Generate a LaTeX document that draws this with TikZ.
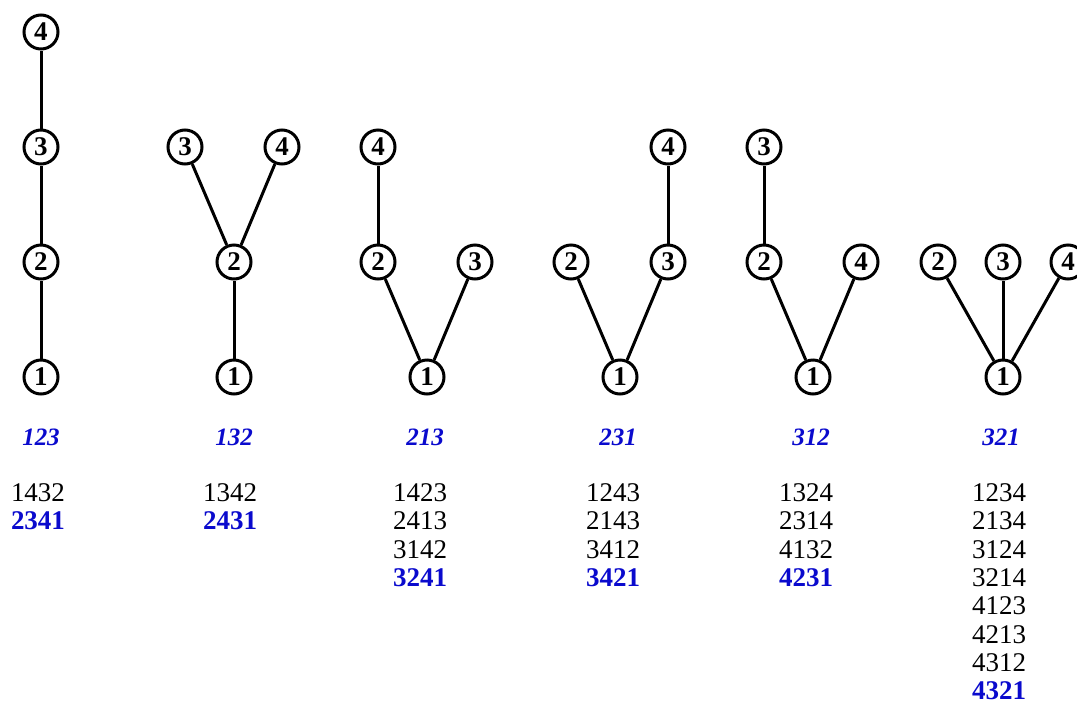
\documentclass[tikz,border=0pt]{standalone}
\usepackage{fontspec}
\setmainfont{Liberation Serif}
\definecolor{permblue}{RGB}{10,10,205}
\tikzset{
  vtx/.style={circle, draw, line width=3pt, minimum size=34pt, inner sep=0pt,
              font=\fontsize{27}{27}\selectfont\bfseries},
  link/.style={line width=3pt},
  pat/.style={anchor=base, text=permblue, font=\fontsize{25}{25}\selectfont\bfseries\itshape},
  perm/.style={anchor=base, font=\fontsize{27}{27}\selectfont},
  best/.style={anchor=base, text=permblue, font=\fontsize{27}{27}\selectfont\bfseries},
}
\begin{document}
\begin{tikzpicture}[x=1pt, y=-1pt]
\useasboundingbox (0,0) rectangle (1077,705);

% tree 123: a path
\node[vtx] (a1) at (41,377) {1};
\node[vtx] (a2) at (41,262) {2};
\node[vtx] (a3) at (41,147) {3};
\node[vtx] (a4) at (41,32) {4};
\draw[link] (a1) -- (a2) -- (a3) -- (a4);

% tree 132
\node[vtx] (b1) at (234,377) {1};
\node[vtx] (b2) at (234,262) {2};
\node[vtx] (b3) at (185,147) {3};
\node[vtx] (b4) at (282,147) {4};
\draw[link] (b1) -- (b2);
\draw[link] (b2) -- (b3);
\draw[link] (b2) -- (b4);

% tree 213
\node[vtx] (c1) at (427,377) {1};
\node[vtx] (c2) at (378,262) {2};
\node[vtx] (c3) at (475,262) {3};
\node[vtx] (c4) at (378,147) {4};
\draw[link] (c1) -- (c2);
\draw[link] (c1) -- (c3);
\draw[link] (c2) -- (c4);

% tree 231
\node[vtx] (d1) at (620,377) {1};
\node[vtx] (d2) at (571,262) {2};
\node[vtx] (d3) at (668,262) {3};
\node[vtx] (d4) at (668,147) {4};
\draw[link] (d1) -- (d2);
\draw[link] (d1) -- (d3);
\draw[link] (d3) -- (d4);

% tree 312
\node[vtx] (e1) at (813,377) {1};
\node[vtx] (e2) at (764,262) {2};
\node[vtx] (e4) at (861,262) {4};
\node[vtx] (e3) at (764,147) {3};
\draw[link] (e1) -- (e2);
\draw[link] (e1) -- (e4);
\draw[link] (e2) -- (e3);

% tree 321: a star
\node[vtx] (f1) at (1003,377) {1};
\node[vtx] (f2) at (938,262) {2};
\node[vtx] (f3) at (1003,262) {3};
\node[vtx] (f4) at (1068,262) {4};
\draw[link] (f1) -- (f2);
\draw[link] (f1) -- (f3);
\draw[link] (f1) -- (f4);

% pattern labels
\node[pat] (pa) at (41,445) {123};
\node[pat] (pb) at (234,445) {132};
\node[pat] (pc) at (425,445) {213};
\node[pat] (pd) at (618,445) {231};
\node[pat] (pe) at (811,445) {312};
\node[pat] (pf) at (1001,445) {321};

% permutation lists
\node[perm] (qa1) at (38,501) {1432};
\node[best] (qa2) at (38,529) {2341};

\node[perm] (qb1) at (230,501) {1342};
\node[best] (qb2) at (230,529) {2431};

\node[perm] (qc1) at (420,501) {1423};
\node[perm] (qc2) at (420,529) {2413};
\node[perm] (qc3) at (420,558) {3142};
\node[best] (qc4) at (420,586) {3241};

\node[perm] (qd1) at (613,501) {1243};
\node[perm] (qd2) at (613,529) {2143};
\node[perm] (qd3) at (613,558) {3412};
\node[best] (qd4) at (613,586) {3421};

\node[perm] (qe1) at (806,501) {1324};
\node[perm] (qe2) at (806,529) {2314};
\node[perm] (qe3) at (806,558) {4132};
\node[best] (qe4) at (806,586) {4231};

\node[perm] (qf1) at (999,501) {1234};
\node[perm] (qf2) at (999,529) {2134};
\node[perm] (qf3) at (999,558) {3124};
\node[perm] (qf4) at (999,586) {3214};
\node[perm] (qf5) at (999,614) {4123};
\node[perm] (qf6) at (999,643) {4213};
\node[perm] (qf7) at (999,671) {4312};
\node[best] (qf8) at (999,699) {4321};
\end{tikzpicture}
\end{document}
